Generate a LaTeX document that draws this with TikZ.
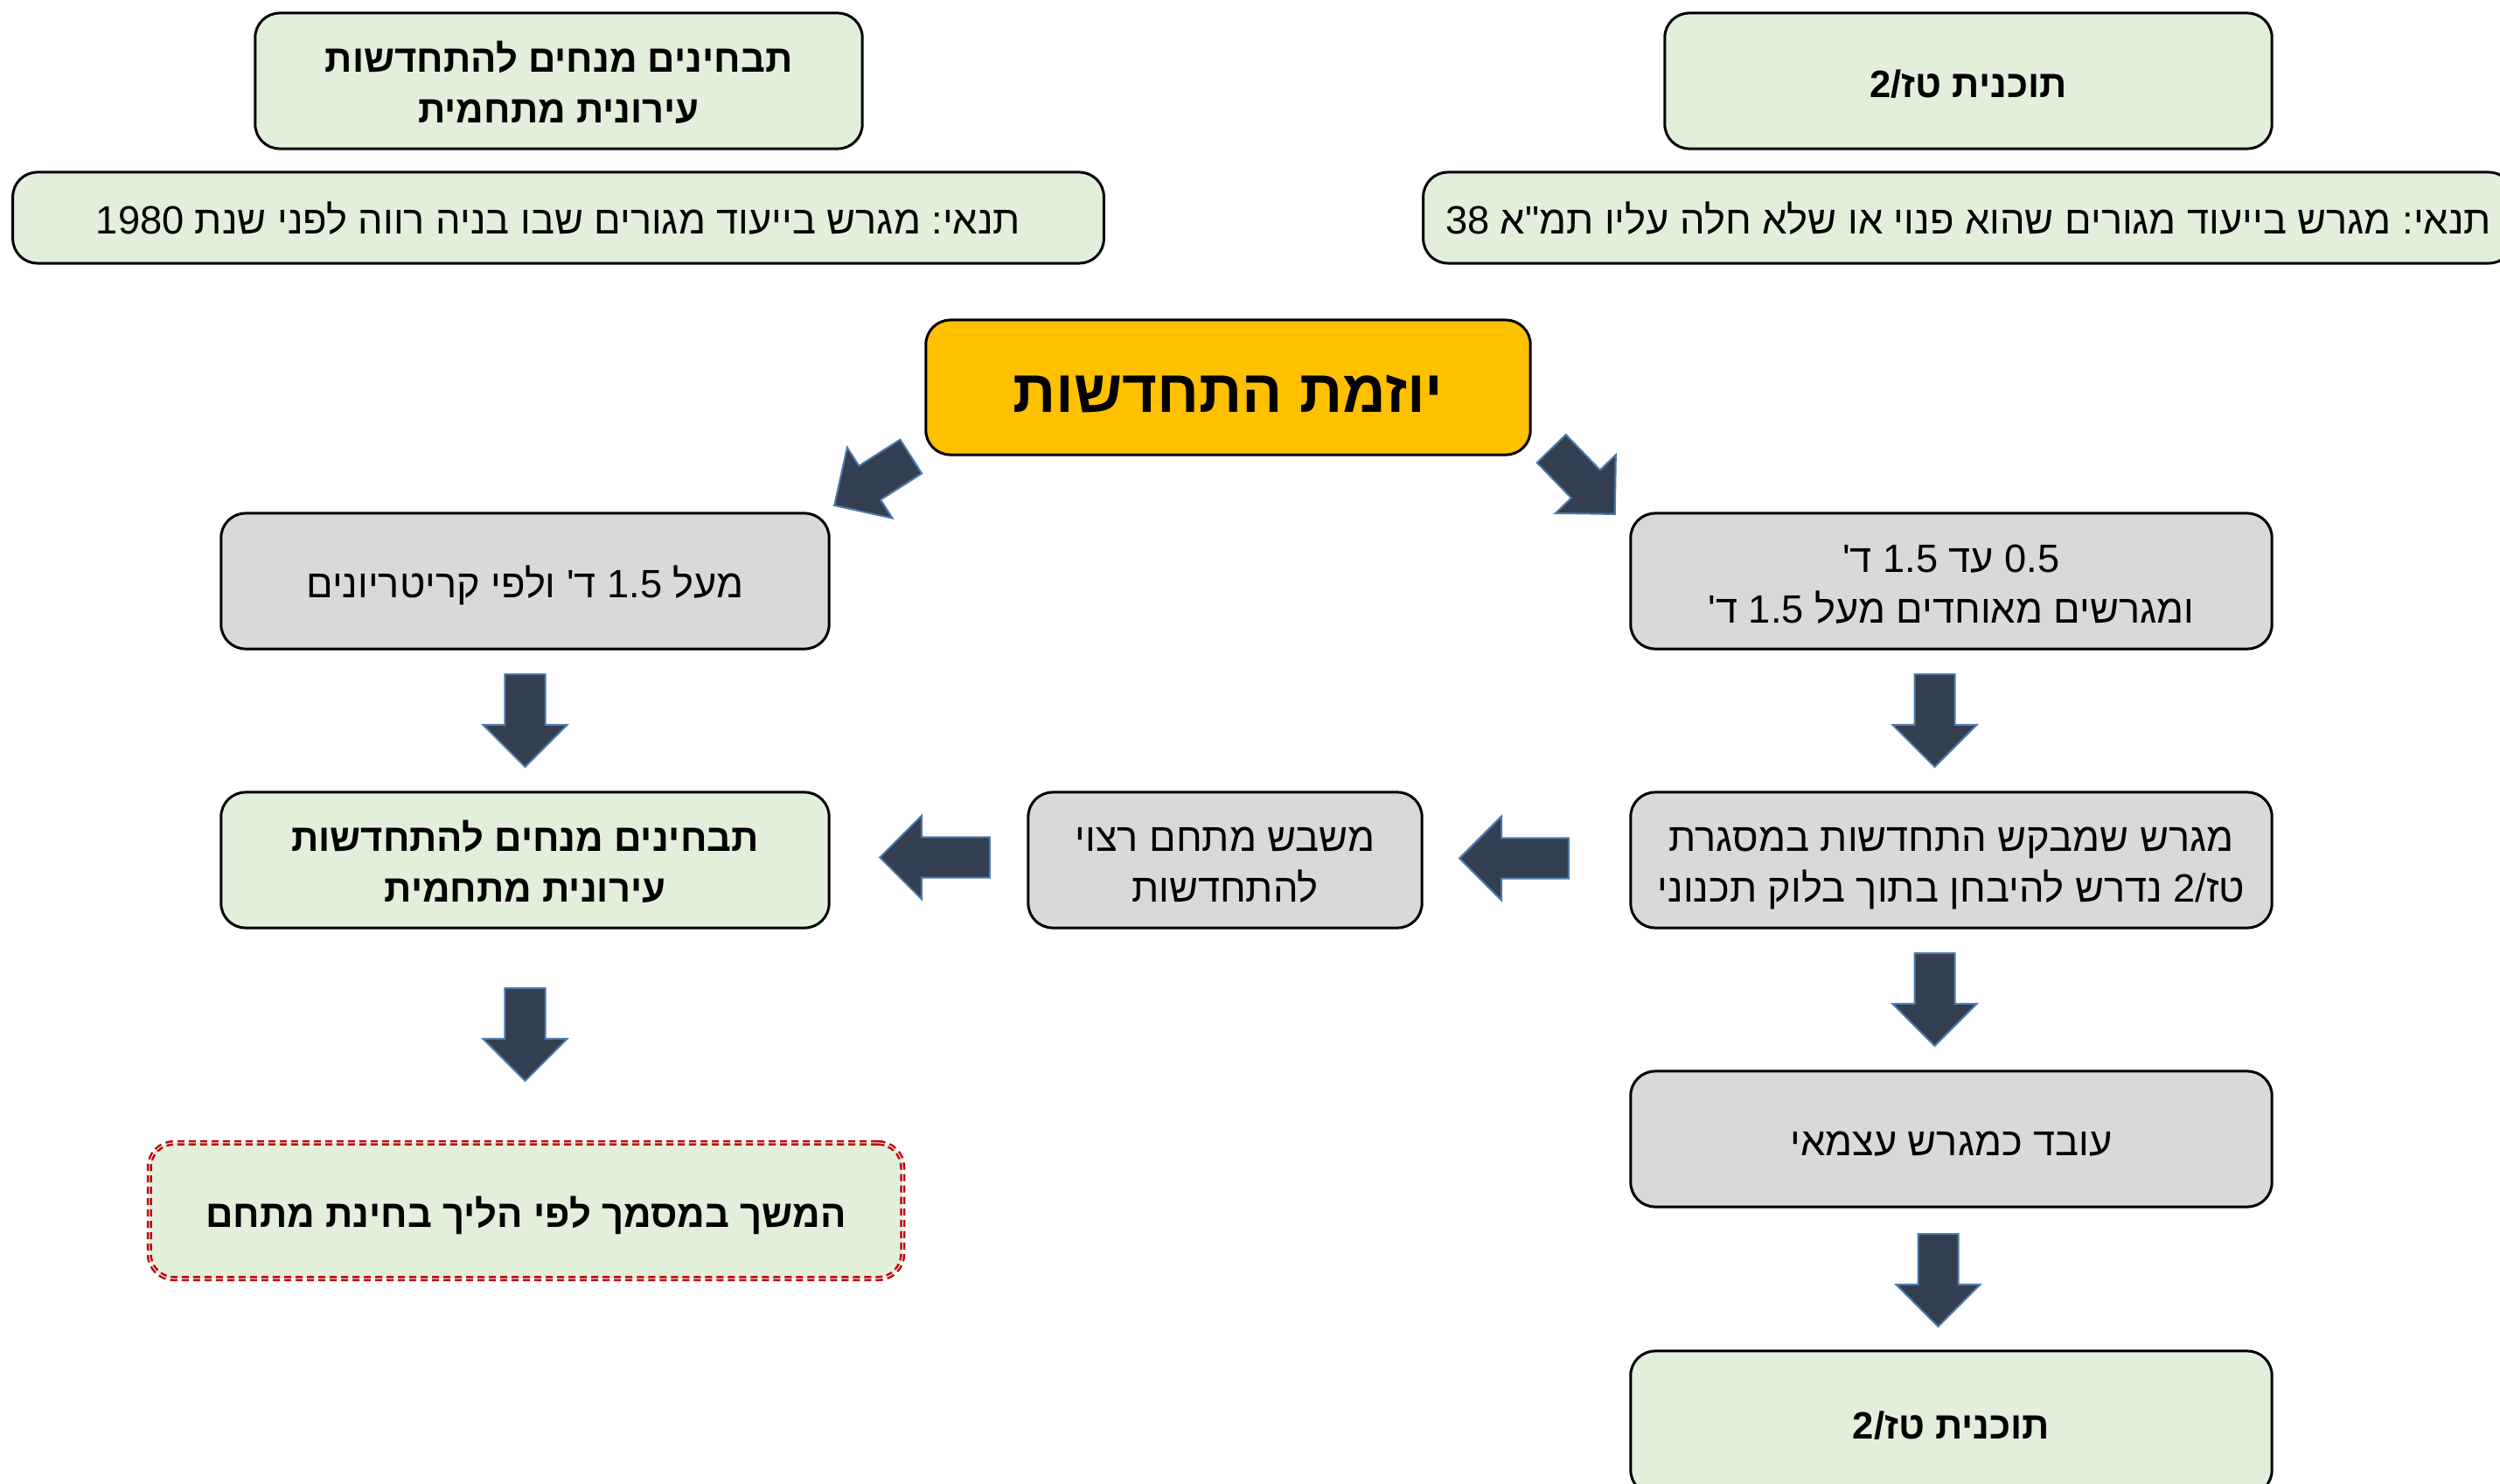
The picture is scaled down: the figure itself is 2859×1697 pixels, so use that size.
\documentclass[tikz,border=0pt]{standalone}
\usepackage{fontspec}
\usetikzlibrary{calc}
\TeXXeTstate=1
\frenchspacing
\newfontfamily\heb[Script=Hebrew]{Liberation Sans}
\definecolor{boxgreen}{HTML}{E2EFDA}
\definecolor{boxgray}{HTML}{D9D9D9}
\definecolor{boxyellow}{HTML}{FFC000}
\definecolor{arrfill}{HTML}{333F50}
\definecolor{arredge}{HTML}{4A7AAE}
\definecolor{dotred}{HTML}{C00000}
% one right-to-left line, and a left-to-right number inside it
\newcommand\heblin[1]{\beginR #1\endR}
\newcommand\lnum[1]{\beginL #1\endL{}}
% block arrow from tail centre #1 to tip #2
\newcommand\blockarrow[2]{%
  \coordinate (bah) at ($(#2)!0.48cm!(#1)$);
  \filldraw[blockarr] ($(#1)!0.23cm!90:(#2)$) -- ($(bah)!0.23cm!90:(#2)$)
    -- ($(bah)!0.48cm!90:(#2)$) -- (#2) -- ($(bah)!0.48cm!-90:(#2)$)
    -- ($(bah)!0.23cm!-90:(#2)$) -- ($(#1)!0.23cm!-90:(#2)$) -- cycle;
}
\tikzset{
  basebox/.style={draw=black, line width=0.03cm, rounded corners=0.28cm,
    align=center, inner sep=0pt, outer sep=0pt, text=black,
    font=\heb\fontsize{12.85pt}{16.5pt}\selectfont,
    % fixed text box so that every label sits at the same height in its box
    text height=13.6pt, text depth=3pt},
  twoline/.style={text height=30.1pt},
  greenbox/.style={basebox, fill=boxgreen,
    font=\heb\bfseries\fontsize{12.4pt}{16.5pt}\selectfont},
  graybox/.style={basebox, fill=boxgray},
  notebox/.style={basebox, fill=boxgreen},
  yellowbox/.style={basebox, fill=boxyellow,
    font=\heb\bfseries\fontsize{19.5pt}{22pt}\selectfont,
    text height=20pt, text depth=4pt},
  redbox/.style={greenbox, draw=dotred, line width=0.025cm,
    double=white, double distance=0.01cm, dash pattern=on 0.08cm off 0.05cm},
  blockarr/.style={fill=arrfill, draw=arredge, line width=0.02cm, line join=miter},
}
\begin{document}
\begin{tikzpicture}[x=0.01cm, y=-0.01cm]
\useasboundingbox (0,0) rectangle (2859,1697);
\clip (0,0) rectangle (2859,1697);

% top row: programmes and their conditions
\node[greenbox, twoline, minimum width=6.94cm, minimum height=1.55cm] (tlg) at (639,92.5)
  {\heblin{תבחינים מנחים להתחדשות}\\\heblin{עירונית מתחמית}};
\node[notebox, minimum width=12.47cm, minimum height=1.04cm] (tlc) at (638.5,249)
  {\heblin{תנאי\kern0pt: מגרש בייעוד מגורים שבו בניה רווה לפני שנת \lnum{1980}}};
\node[greenbox, minimum width=6.94cm, minimum height=1.55cm] (trg) at (2251,92.5)
  {\heblin{תוכנית טז\kern0pt/\lnum{2}}};
\node[notebox, minimum width=12.46cm, minimum height=1.04cm] (trc) at (2251,249)
  {\heblin{תנאי\kern0pt: מגרש בייעוד מגורים שהוא פנוי או שלא חלה עליו תמ"א \lnum{38}}};

% start
\node[yellowbox, minimum width=6.91cm, minimum height=1.54cm] (yel) at (1404.5,443)
  {\heblin{יוזמת התחדשות}};

% left branch
\node[graybox, minimum width=6.95cm, minimum height=1.55cm] (gl1) at (600.5,664.5)
  {\heblin{מעל \lnum{1.5} ד\kern0pt' ולפי קריטריונים}};
\node[greenbox, twoline, minimum width=6.95cm, minimum height=1.55cm] (gl2) at (600.5,983.5)
  {\heblin{תבחינים מנחים להתחדשות}\\\heblin{עירונית מתחמית}};
\node[redbox, minimum width=8.61cm, minimum height=1.55cm] (red) at (601.5,1384.5)
  {\heblin{המשך במסמך לפי הליך בחינת מתחם}};

% middle
\node[graybox, twoline, minimum width=4.5cm, minimum height=1.55cm] (gm) at (1401,983.5)
  {\heblin{משבש מתחם רצוי}\\\heblin{להתחדשות}};

% right branch
\node[graybox, twoline, minimum width=7.33cm, minimum height=1.55cm] (gr1) at (2231.5,664.5)
  {\heblin{\lnum{0.5} עד \lnum{1.5} ד\kern0pt'}\\\heblin{ומגרשים מאוחדים מעל \lnum{1.5} ד\kern0pt'}};
\node[graybox, twoline, minimum width=7.33cm, minimum height=1.55cm] (gr2) at (2231.5,983.5)
  {\heblin{מגרש שמבקש התחדשות במסגרת}\\\heblin{טז\kern0pt/\lnum{2} נדרש להיבחן בתוך בלוק תכנוני}};
\node[graybox, minimum width=7.33cm, minimum height=1.55cm] (gr3) at (2231.5,1302.5)
  {\heblin{עובד כמגרש עצמאי}};
\node[greenbox, minimum width=7.33cm, minimum height=1.64cm] (gr4) at (2231.5,1627)
  {\heblin{תוכנית טז\kern0pt/\lnum{2}}};

% arrow end points
\coordinate (a1s) at ($(yel.south west)+(-17,2)$);
\coordinate (a1e) at ($(gl1.north east)+(6,-9)$);
\coordinate (a2s) at ($(yel.south east)+(24,-7)$);
\coordinate (a2e) at ($(gr1.north west)+(-18,1)$);
\coordinate (a3s) at ($(gl1.south)+(0,29)$);
\coordinate (a3e) at ($(gl2.north)+(0,-29)$);
\coordinate (a4s) at ($(gl2.south)+(0,69)$);
\coordinate (a4e) at ($(red.north)+(-1,-71)$);
\coordinate (a5s) at ($(gr1.south)+(-19,29)$);
\coordinate (a5e) at ($(gr2.north)+(-19,-29)$);
\coordinate (a6s) at ($(gr2.south)+(-19,29)$);
\coordinate (a6e) at ($(gr3.north)+(-19,-29)$);
\coordinate (a7s) at ($(gr3.south)+(-15,31)$);
\coordinate (a7e) at ($(gr4.north)+(-15,-28)$);
\coordinate (a8s) at ($(gr2.west)+(-71,-2)$);
\coordinate (a8e) at ($(gm.east)+(43,-2)$);
\coordinate (a9s) at ($(gm.west)+(-44,-3)$);
\coordinate (a9e) at ($(gl2.east)+(58,-3)$);

\blockarrow{a1s}{a1e}
\blockarrow{a2s}{a2e}
\blockarrow{a3s}{a3e}
\blockarrow{a4s}{a4e}
\blockarrow{a5s}{a5e}
\blockarrow{a6s}{a6e}
\blockarrow{a7s}{a7e}
\blockarrow{a8s}{a8e}
\blockarrow{a9s}{a9e}
\end{tikzpicture}
\end{document}
